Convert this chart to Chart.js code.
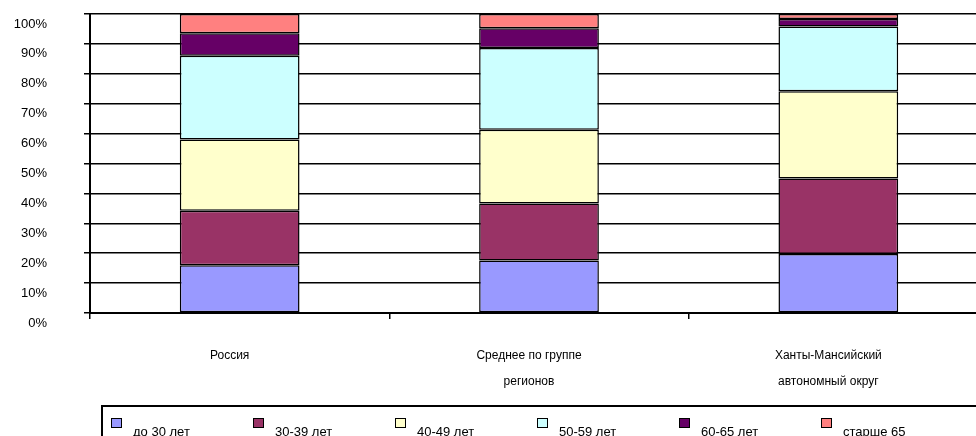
<!DOCTYPE html>
<html>
<head>
<meta charset="utf-8">
<script src="https://cdn.jsdelivr.net/npm/chart.js@4"></script>
<style>
  html, body { margin: 0; padding: 0; background: #fff; overflow: hidden; width: 976px; height: 436px; }
  #wrap { position: absolute; left: 0; top: 0; width: 1000px; height: 436px; }
  #legend { position: absolute; left: 101px; top: 405px; width: 900px; height: 60px; border: 2px solid #000; box-sizing: border-box; font-family: "Liberation Sans", Arial, sans-serif; font-size: 13px; color: #000; }
  .item { position: absolute; top: 0; }
  .sw { position: absolute; top: 11px; width: 9px; height: 8px; border: 1px solid #000; }
  .tx { position: absolute; top: 18px; white-space: nowrap; line-height: 13px; }
</style>
</head>
<body>
<div id="wrap"><canvas id="c" width="1000" height="436"></canvas></div>
<div id="legend"></div>
<script>
const categories = ['Россия', ['Среднее по группе', 'регионов'], ['Ханты-Мансийский', 'автономный округ']];
const seriesNames = ['до 30 лет', '30-39 лет', '40-49 лет', '50-59 лет', '60-65 лет', 'старше 65'];
const under30 = [16.0, 17.6, 19.7];
const age30_39 = [18.2, 19.0, 25.3];
const age40_49 = [23.8, 24.7, 29.2];
const age50_59 = [28.0, 27.3, 21.6];
const age60_65 = [7.6, 6.6, 2.5];
const over65 = [6.4, 4.8, 1.7];
const colors = ['#9999FF', '#993366', '#FFFFCC', '#CCFFFF', '#660066', '#FF8080'];
const tickValues = [0, 10, 20, 30, 40, 50, 60, 70, 80, 90, 100];

const seriesData = [under30, age30_39, age40_49, age50_59, age60_65, over65];
const FONT = '"Liberation Sans", Arial, sans-serif';

const chart = new Chart(document.getElementById('c'), {
  type: 'bar',
  data: {
    labels: categories,
    datasets: seriesData.map((d, i) => ({
      label: seriesNames[i],
      data: d,
      backgroundColor: colors[i],
      borderColor: '#000',
      borderWidth: 1.5,
      borderSkipped: false,
      categoryPercentage: 1,
      barPercentage: 0.4
    }))
  },
  options: {
    responsive: false,
    animation: false,
    layout: { padding: { top: 14, right: 12, left: 0, bottom: 0 } },
    plugins: { legend: { display: false }, tooltip: { enabled: false } },
    scales: {
      x: {
        stacked: true,
        offset: true,
        afterFit: s => { s.height = 123; s.paddingTop = 0; s.paddingBottom = 0; },
        border: { display: true, color: '#000', width: 2 },
        grid: { offset: true, drawOnChartArea: false, drawTicks: true, tickLength: 6, color: '#000', lineWidth: 1.5 },
        ticks: { color: '#000', font: { family: FONT, size: 12, lineHeight: 2.17 }, padding: 24, labelOffset: -10, maxRotation: 0, autoSkip: false }
      },
      y: {
        stacked: true,
        min: 0, max: 100,
        afterFit: s => { s.width = 90; s.paddingTop = 0; s.paddingBottom = 0; },
        afterBuildTicks: s => { s.ticks = tickValues.map(v => ({ value: v })); },
        border: { display: true, color: '#000', width: 2 },
        grid: { drawTicks: true, tickLength: 6, color: '#000', lineWidth: 1.5 },
        ticks: { color: '#000', font: { family: FONT, size: 13 }, padding: 37, labelOffset: 10, callback: v => v + '%' }
      }
    }
  }
});

// HTML legend built from chart datasets
const leg = document.getElementById('legend');
chart.data.datasets.forEach((ds, i) => {
  const it = document.createElement('div');
  it.className = 'item';
  it.style.left = (8 + i * 142) + 'px';
  const sw = document.createElement('div');
  sw.className = 'sw';
  sw.style.background = ds.backgroundColor;
  const tx = document.createElement('div');
  tx.className = 'tx';
  tx.style.left = '22px';
  tx.textContent = ds.label;
  it.appendChild(sw); it.appendChild(tx);
  leg.appendChild(it);
});
</script>
</body>
</html>
